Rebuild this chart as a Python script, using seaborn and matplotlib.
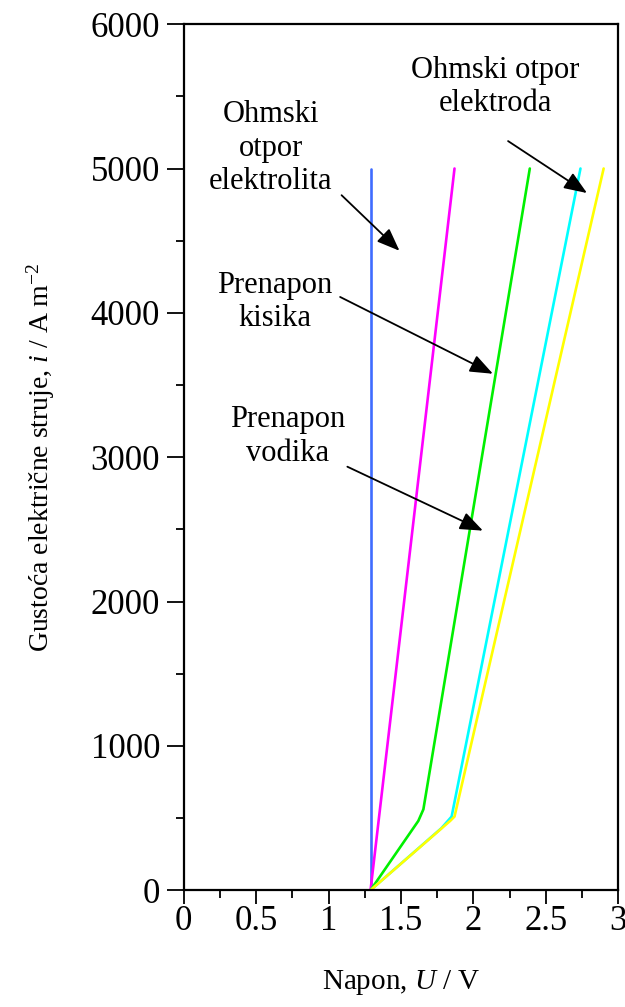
import matplotlib
matplotlib.use("Agg")
import matplotlib.pyplot as plt
import seaborn as sns
import pandas as pd
from matplotlib.ticker import MultipleLocator

# podaci ocitani sa slike (napon U / V, gustoca struje i / A m^-2)
elektrolit_U = [1.29, 1.29]
elektrolit_i = [0, 5000]
kisik_U = [1.29, 1.87]
kisik_i = [0, 5000]
vodik_U = [1.29, 1.62, 1.655, 2.39]
vodik_i = [0, 480, 560, 5000]
elektroda_U = [1.29, 1.78, 1.85, 2.74]
elektroda_i = [0, 430, 510, 5000]
ukupno_U = [1.29, 1.84, 1.87, 2.90]
ukupno_i = [0, 480, 510, 5000]

series = {
    "elektrolit": (elektrolit_U, elektrolit_i, "#3f6cff"),
    "kisik": (kisik_U, kisik_i, "#ff00ff"),
    "vodik": (vodik_U, vodik_i, "#00f000"),
    "elektroda": (elektroda_U, elektroda_i, "#00ffff"),
    "ukupno": (ukupno_U, ukupno_i, "#ffff00"),
}

rows = []
for name, (us, js, _) in series.items():
    for u, j in zip(us, js):
        rows.append({"serija": name, "U": u, "i": j})
df = pd.DataFrame(rows)
palette = {name: c for name, (_, _, c) in series.items()}

sns.set_style("ticks")
plt.rcParams['font.family'] = ['Liberation Serif', 'DejaVu Serif']
plt.rcParams['text.color'] = 'black'
plt.rcParams['axes.labelcolor'] = 'black'
plt.rcParams['mathtext.fontset'] = 'custom'
plt.rcParams['mathtext.it'] = 'Liberation Serif:italic'
plt.rcParams['mathtext.rm'] = 'Liberation Serif'

fig = plt.figure(figsize=(6.25, 10.07), dpi=100)
ax = fig.add_axes([0.294, 0.116, 0.695, 0.86])

sns.lineplot(data=df, x="U", y="i", hue="serija", palette=palette,
             sort=False, estimator=None, units="serija", linewidth=1.9,
             legend=False, ax=ax)

ax.set_xlim(0, 3)
ax.set_ylim(0, 6000)
ax.xaxis.set_minor_locator(MultipleLocator(0.25))
ax.yaxis.set_major_locator(MultipleLocator(1000))
ax.yaxis.set_minor_locator(MultipleLocator(500))
ax.set_xticks([0, 0.5, 1, 1.5, 2, 2.5, 3])
ax.set_xticklabels(["0", "0.5", "1", "1.5", "2", "2.5", "3"])

for s in ax.spines.values():
    s.set_linewidth(1.6)
    s.set_color("black")
ax.tick_params(axis="both", which="major", width=1.3, labelsize=25,
               direction="out", colors="black")
ax.tick_params(axis="x", which="major", length=10, pad=1)
ax.tick_params(axis="y", which="major", length=12, pad=5)
ax.tick_params(axis="both", which="minor", length=6, width=1.3,
               direction="out", colors="black")
ax.tick_params(top=False, right=False, which="both")

ax.set_xlabel("Napon, $U$ / V", fontsize=21, labelpad=21)
ax.set_ylabel("Gustoća električne struje, $i$ / A m$^{-2}$", fontsize=20,
              labelpad=24)

arrow = dict(arrowstyle="-|>,head_length=1.4,head_width=0.55", color="black",
             lw=1.3, shrinkA=0, shrinkB=0)
tfont = dict(fontsize=22, ha="center", va="center", linespacing=1.2)

ax.text(0.60, 5142, "Ohmski\notpor\nelektrolita", **tfont)
ax.annotate("", xy=(1.49, 4430), xytext=(1.09, 4815), arrowprops=arrow)

ax.text(2.15, 5564, "Ohmski otpor\nelektroda", **tfont)
ax.annotate("", xy=(2.785, 4830), xytext=(2.24, 5190), arrowprops=arrow)

ax.text(0.63, 4076, "Prenapon\nkisika", **tfont)
ax.annotate("", xy=(2.135, 3578), xytext=(1.08, 4110), arrowprops=arrow)

ax.text(0.72, 3142, "Prenapon\nvodika", **tfont)
ax.annotate("", xy=(2.066, 2491), xytext=(1.13, 2934), arrowprops=arrow)

fig.savefig("out.png", dpi=100)
